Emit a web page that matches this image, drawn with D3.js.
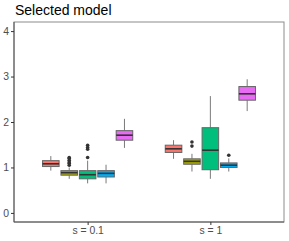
<!DOCTYPE html>
<html lang="en">
<head>
<meta charset="UTF-8">
<title>Selected model</title>
<script src="https://d3js.org/d3.v7.min.js"></script>
<style>
  html, body { margin: 0; padding: 0; background: #fff; }
  svg { display: block; font-family: "Liberation Sans", Arial, sans-serif; }
  .tick text { fill: #4d4d4d; font-size: 10.4px; }
  .tick line { stroke: #333; }
</style>
</head>
<body>
<svg width="289" height="241"></svg>

<script>
// data
const groups = ["s = 0.1", "s = 1"];
const models = ["m1", "m2", "m3", "m4", "m5"];
const colors = ["#F8766D", "#A3A500", "#00BF7D", "#00B0F6", "#E76BF3"];
const yTicks = [0, 1, 2, 3, 4];

// per group, one value per model
const whiskLo = [[0.93, 0.75, 0.65, 0.65, 1.43], [1.19, 0.91, 0.75, 0.91, 2.24]];
const q1      = [[1.02, 0.83, 0.75, 0.79, 1.60], [1.33, 1.07, 0.95, 1.00, 2.48]];
const median  = [[1.08, 0.885, 0.84, 0.87, 1.71], [1.41, 1.135, 1.38, 1.05, 2.62]];
const q3      = [[1.15, 0.93, 0.93, 0.93, 1.81], [1.49, 1.19, 1.875, 1.10, 2.78]];
const whiskHi = [[1.25, 1.00, 1.15, 1.06, 2.07], [1.60, 1.30, 2.57, 1.20, 2.94]];
const outliers = [
  [[], [1.05, 1.09, 1.12, 1.16, 1.20, 1.22], [1.22, 1.40, 1.44, 1.49], [], []],
  [[], [1.47, 1.56], [], [1.27], []]
];

const svg = d3.select("svg");
const pLeft = 14, pTop = 22, pRight = 284, pBottom = 222;

const x = d3.scalePoint().domain(groups).range([pLeft, pRight]).padding(0.6);
const step = x.step();
const dodge = d3.scaleBand().domain(models).range([-0.375 * step, 0.375 * step]);
const bw = dodge.bandwidth() * 0.9;
const y = d3.scaleLinear().domain([-0.2, 4.2]).range([pBottom, pTop]);

// title
svg.append("text")
  .attr("x", pLeft + 1).attr("y", 15)
  .attr("font-size", "14px").attr("fill", "#000")
  .text("Selected model");

// panel border
svg.append("rect")
  .attr("x", pLeft).attr("y", pTop)
  .attr("width", pRight - pLeft).attr("height", pBottom - pTop)
  .attr("fill", "none").attr("stroke", "#8c8c8c").attr("stroke-width", 1);
svg.append("path")
  .attr("d", `M${pLeft},${pTop}V${pBottom}H${pRight}`)
  .attr("fill", "none").attr("stroke", "#555").attr("stroke-width", 1);

// axes
svg.append("g")
  .attr("transform", `translate(${pLeft},0)`)
  .call(d3.axisLeft(y).tickValues(yTicks).tickFormat(d3.format("d")).tickSize(3).tickPadding(2))
  .call(g => g.select(".domain").remove());

svg.append("g")
  .attr("transform", `translate(0,${pBottom})`)
  .call(d3.axisBottom(x).tickSize(3).tickPadding(2))
  .call(g => g.select(".domain").remove());

// boxes
const boxes = [];
groups.forEach((g, gi) => {
  models.forEach((m, mi) => {
    boxes.push({
      g, m, color: colors[mi],
      lo: whiskLo[gi][mi], q1: q1[gi][mi], med: median[gi][mi],
      q3: q3[gi][mi], hi: whiskHi[gi][mi], out: outliers[gi][mi]
    });
  });
});

const bx = svg.append("g").selectAll("g").data(boxes).join("g")
  .attr("transform", d => `translate(${x(d.g) + dodge(d.m) + dodge.bandwidth() / 2},0)`);

bx.append("line")
  .attr("y1", d => y(d.hi)).attr("y2", d => y(d.q3))
  .attr("stroke", "#7a7a7a").attr("stroke-width", 1);
bx.append("line")
  .attr("y1", d => y(d.q1)).attr("y2", d => y(d.lo))
  .attr("stroke", "#7a7a7a").attr("stroke-width", 1);

bx.append("rect")
  .attr("x", -bw / 2).attr("width", bw)
  .attr("y", d => y(d.q3)).attr("height", d => y(d.q1) - y(d.q3))
  .attr("fill", d => d.color)
  .attr("stroke", "#666").attr("stroke-width", 1);

bx.append("line")
  .attr("x1", -bw / 2).attr("x2", bw / 2)
  .attr("y1", d => y(d.med)).attr("y2", d => y(d.med))
  .attr("stroke", "#333").attr("stroke-width", 1.6);

bx.selectAll("circle").data(d => d.out).join("circle")
  .attr("r", 1.8)
  .attr("cy", v => y(v))
  .attr("fill", "#333");
</script>
</body>
</html>
